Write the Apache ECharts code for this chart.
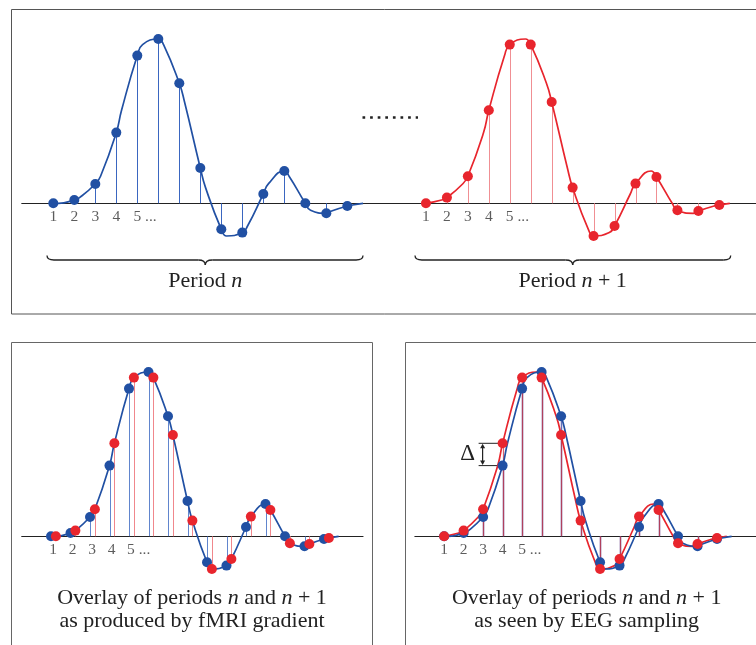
<!DOCTYPE html>
<html>
<head>
<meta charset="utf-8">
<script src="https://cdn.jsdelivr.net/npm/echarts@6/dist/echarts.min.js"></script>
<style>
  html, body { margin: 0; padding: 0; background: #fff; }
  #chart { width: 756px; height: 645px; }
</style>
</head>
<body>
<div id="chart"></div>
<script>
// sample index within one period
const samples = [1, 2, 3, 4, 5, 6, 7, 8, 9, 10, 11, 12, 13, 14, 15];
// sampled amplitude, period n (blue) and period n+1 (red)
const periodN  = [0, 3.3, 19.3, 70.7, 147.7, 164.3, 120, 35.3, -26, -29.3, 9.3, 32.3, 0, -10, -2.7];
const periodN1 = [0, 5.7, 27, 93, 158.7, 158.7, 101.3, 15.7, -32.7, -22.7, 19.7, 26.3, -7, -7.7, -1.7];
// period n+1 is taken a quarter sample later on the same waveform
const lag = 0.25;
// where the drawn waveform fades back to zero
const curveEnd = [15.75, 0];
const tickLabels = ['1', '2', '3', '4', '5 ...'];

const BLUE = '#2150a3';
const RED = '#e8252d';
const SERIF = '"Liberation Serif", "DejaVu Serif", serif';

const chart = echarts.init(document.getElementById('chart'));

// waveform through both sample sets, shifted so that `shift` lands on sample 1
const waveform = (shift) => {
  const pts = [];
  samples.forEach((s, i) => {
    pts.push([s - shift, periodN[i]]);
    pts.push([s + lag - shift, periodN1[i]]);
  });
  pts.push([curveEnd[0] - shift, curveEnd[1]]);
  return pts.filter(p => p[0] >= 0.999).sort((a, b) => a[0] - b[0]);
};

const pairs = (vals, dx) => samples.map((s, i) => [s + (dx || 0), vals[i]]);

const grids = [
  { left: 21.8, top: 23.3, width: 372.75, height: 230 },
  { left: 394.5, top: 23.3, width: 362.25, height: 230 },
  { left: 21.75, top: 356.3, width: 341.25, height: 230 },
  { left: 414.9, top: 356.3, width: 343, height: 230 }
];
const xRange = [[-0.5, 17.25], [-0.5, 16.75], [-0.5, 17], [-0.5, 17]];

const xAxes = grids.map((g, i) => ({
  type: 'value', gridIndex: i, min: xRange[i][0], max: xRange[i][1],
  axisLine: { show: true, onZero: true, lineStyle: { color: '#222', width: 1.2 } },
  axisTick: { show: false }, axisLabel: { show: false }, splitLine: { show: false }
}));
const yAxes = grids.map((g, i) => ({
  type: 'value', gridIndex: i, min: -50, max: 180, show: false, splitLine: { show: false }
}));

const curve = (idx, data, color) => ({
  type: 'line', xAxisIndex: idx, yAxisIndex: idx, data, smooth: 0.5,
  showSymbol: false, symbol: 'none', z: 3,
  lineStyle: { color, width: 1.7 }
});
const dots = (idx, data, color, z) => ({
  type: 'scatter', xAxisIndex: idx, yAxisIndex: idx, data, symbolSize: 10,
  itemStyle: { color, opacity: 1 }, z: z || 4
});
const stems = (idx, data, color, opacity, width) => ({
  type: 'custom', xAxisIndex: idx, yAxisIndex: idx, data, z: 2,
  renderItem: (params, api) => {
    const a = api.coord([api.value(0), 0]);
    const b = api.coord([api.value(0), api.value(1)]);
    const x = Math.round(a[0]) + 0.5;
    return {
      type: 'line',
      shape: { x1: x, y1: a[1], x2: x, y2: b[1] },
      style: { stroke: color, lineWidth: width || 1, opacity }
    };
  }
});
const ticks = (idx, dx) => ({
  type: 'scatter', xAxisIndex: idx, yAxisIndex: idx, symbolSize: 0, z: 6,
  data: tickLabels.map((t, i) => ({
    value: [samples[i], 0],
    label: {
      show: true, formatter: t, position: 'bottom', distance: 6,
      fontFamily: SERIF, fontSize: 15.5, color: '#333',
      align: i === tickLabels.length - 1 ? 'left' : 'center',
      offset: [(dx || 0) + (i === tickLabels.length - 1 ? -3.9 : 0), 0]
    }
  }))
});

const series = [
  // period n
  stems(0, pairs(periodN), '#3a66c0', 1),
  curve(0, waveform(0), BLUE),
  dots(0, pairs(periodN), BLUE),
  ticks(0),
  // period n+1
  stems(1, pairs(periodN1), '#f08f93', 1),
  curve(1, waveform(lag), RED),
  dots(1, pairs(periodN1), RED),
  ticks(1),
  // fMRI overlay: same waveform, n+1 samples lag by a quarter sample
  stems(2, pairs(periodN), '#3a66c0', 0.8),
  stems(2, pairs(periodN1, lag), '#ee7a80', 0.9),
  curve(2, waveform(0), BLUE),
  dots(2, pairs(periodN), BLUE),
  dots(2, pairs(periodN1, lag), RED, 5),
  ticks(2, 2),
  // EEG overlay: same sample instants, waveform n+1 shifted
  stems(3, pairs(periodN), '#5a5fb0', 0.9, 1.5),
  stems(3, pairs(periodN1), '#c8303f', 0.75, 1.2),
  curve(3, waveform(lag), RED),
  curve(3, waveform(0), BLUE),
  dots(3, pairs(periodN), BLUE),
  dots(3, pairs(periodN1), RED, 5),
  ticks(3)
];

chart.setOption({
  animation: false,
  backgroundColor: '#fff',
  grid: grids,
  xAxis: xAxes,
  yAxis: yAxes,
  series
});

// curly brace under a period, built from quadratic curves and lines
const brace = (x1, x2, xm, y0) => {
  const y1 = y0 + 4.5, y2 = y0 + 9.5, r = 7;
  const st = { stroke: '#222', lineWidth: 1.3, fill: 'none' };
  return [
    { type: 'bezierCurve', shape: { x1: x1, y1: y0, cpx1: x1, cpy1: y1, x2: x1 + r, y2: y1 }, style: st },
    { type: 'line', shape: { x1: x1 + r, y1: y1, x2: xm - r, y2: y1 }, style: st },
    { type: 'bezierCurve', shape: { x1: xm - r, y1: y1, cpx1: xm, cpy1: y1, x2: xm, y2: y2 }, style: st },
    { type: 'bezierCurve', shape: { x1: xm, y1: y2, cpx1: xm, cpy1: y1, x2: xm + r, y2: y1 }, style: st },
    { type: 'line', shape: { x1: xm + r, y1: y1, x2: x2 - r, y2: y1 }, style: st },
    { type: 'bezierCurve', shape: { x1: x2 - r, y1: y1, cpx1: x2, cpy1: y1, x2: x2, y2: y0 }, style: st }
  ];
};

const FS = 22;
const rich = {
  r: { fontFamily: SERIF, fontSize: FS, color: '#222' },
  i: { fontFamily: SERIF, fontSize: FS, color: '#222', fontStyle: 'italic' }
};
const caption = (x, y, text) => ({
  type: 'text', x, y, silent: true,
  style: { text, rich, align: 'center', verticalAlign: 'middle', fontFamily: SERIF, fontSize: FS, fill: '#222' }
});

// delta annotation at sample 4 of the EEG overlay
const pRed = chart.convertToPixel({ gridIndex: 3 }, [samples[3], periodN1[3]]);
const pBlue = chart.convertToPixel({ gridIndex: 3 }, [samples[3], periodN[3]]);
const ax = pRed[0] - 20;
const ink = { stroke: '#222', lineWidth: 1 };

chart.setOption({
  graphic: [
    { type: 'rect', shape: { x: 11.5, y: 9.5, width: 800, height: 304.5 }, style: { fill: 'none', stroke: '#555', lineWidth: 1 } },
    { type: 'rect', shape: { x: 11.5, y: 342.5, width: 361, height: 400 }, style: { fill: 'none', stroke: '#666', lineWidth: 1 } },
    { type: 'rect', shape: { x: 405.5, y: 342.5, width: 400, height: 400 }, style: { fill: 'none', stroke: '#666', lineWidth: 1 } },
    { type: 'line', shape: { x1: 362.5, y1: 117.5, x2: 418, y2: 117.5 }, style: { stroke: '#222', lineWidth: 2.7, lineDash: [2.7, 4.9] } },
    ...brace(47, 363, 205.3, 255.5),
    ...brace(415, 730.7, 572.7, 255.5),
    caption(205.3, 281, '{r|Period }{i|n}'),
    caption(572.7, 281, '{r|Period }{i|n}{r| + 1}'),
    caption(192, 598, '{r|Overlay of periods }{i|n}{r| and }{i|n}{r| + 1}'),
    caption(192, 621, '{r|as produced by fMRI gradient}'),
    caption(586.7, 598, '{r|Overlay of periods }{i|n}{r| and }{i|n}{r| + 1}'),
    caption(586.7, 621, '{r|as seen by EEG sampling}'),
    { type: 'line', shape: { x1: ax - 4, y1: pRed[1], x2: pRed[0], y2: pRed[1] }, style: ink },
    { type: 'line', shape: { x1: ax - 4, y1: pBlue[1], x2: pBlue[0], y2: pBlue[1] }, style: ink },
    { type: 'line', shape: { x1: ax, y1: pRed[1] + 4, x2: ax, y2: pBlue[1] - 4 }, style: { stroke: '#222', lineWidth: 1.2 } },
    { type: 'polygon', shape: { points: [[ax - 2.5, pRed[1] + 5], [ax + 2.5, pRed[1] + 5], [ax, pRed[1] + 0.5]] }, style: { fill: '#222' } },
    { type: 'polygon', shape: { points: [[ax - 2.5, pBlue[1] - 5], [ax + 2.5, pBlue[1] - 5], [ax, pBlue[1] - 0.5]] }, style: { fill: '#222' } },
    { type: 'text', x: ax - 15, y: (pRed[1] + pBlue[1]) / 2, style: { text: 'Δ', fontFamily: SERIF, fontSize: 23, fill: '#222', align: 'center', verticalAlign: 'middle' } }
  ]
});
</script>
</body>
</html>
